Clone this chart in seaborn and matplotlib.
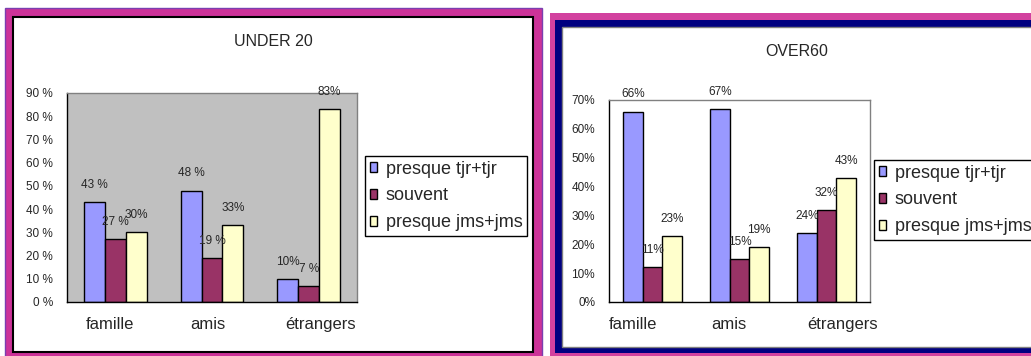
import pandas as pd
import seaborn as sns
import matplotlib.pyplot as plt
import matplotlib.transforms as mtransforms
from matplotlib.patches import Rectangle, Patch
from matplotlib.ticker import FuncFormatter

# data
categories = ['famille', 'amis', 'étrangers']
series = ['presque tjr+tjr', 'souvent', 'presque jms+jms']
colors = ['#9999FF', '#993366', '#FFFFCC']

under20_tjr = [43, 48, 10]
under20_souvent = [27, 19, 7]
under20_jms = [30, 33, 83]
under20_labels = [['43 %', '48 %', '10%'], ['27 %', '19 %', '7 %'], ['30%', '33%', '83%']]

over60_tjr = [66, 67, 24]
over60_souvent = [12, 15, 32]
over60_jms = [23, 19, 43]
over60_labels = [['66%', '67%', '24%'], ['11%', '15%', '32%'], ['23%', '19%', '43%']]

W, H = 1031, 356


def make_df(tjr, souvent, jms):
    rows = []
    for s, vals in zip(series, [tjr, souvent, jms]):
        for c, v in zip(categories, vals):
            rows.append({'categorie': c, 'serie': s, 'valeur': v})
    return pd.DataFrame(rows)


def px_axes(fig, l, t, r, b):
    return fig.add_axes([l / W, 1 - b / H, (r - l) / W, (b - t) / H])


def draw_panel(ax, df, labels, ymax, face, width, fmt, label_shift):
    sns.barplot(data=df, x='categorie', y='valeur', hue='serie', hue_order=series,
                palette=colors, width=width, gap=0, saturation=1,
                edgecolor='black', linewidth=1, legend=False, ax=ax)
    for cont, labs in zip(ax.containers, labels):
        ax.bar_label(cont, labels=labs, padding=8, fontsize=8.5)
    ax.set_facecolor(face)
    ax.set_xlim(-0.5, 2.5)
    ax.set_ylim(0, ymax)
    ax.set_yticks(range(0, ymax + 1, 10))
    ax.yaxis.set_major_formatter(FuncFormatter(fmt))
    ax.set_xticks([-0.5, 0.5, 1.5, 2.5], minor=True)
    ax.tick_params(axis='x', which='minor', length=5, direction='out', width=1)
    ax.tick_params(axis='x', which='major', length=0, pad=11, labelsize=12)
    ax.tick_params(axis='y', length=4, direction='out', width=1, pad=6, labelsize=8.5)
    ax.set_xlabel('')
    ax.set_ylabel('')
    # Excel spreads the category names a little
    for lab, dx in zip(ax.get_xticklabels(), label_shift):
        lab.set_transform(lab.get_transform() +
                          mtransforms.ScaledTranslation(dx / 100, 0, ax.figure.dpi_scale_trans))
    for side in ['left', 'bottom']:
        ax.spines[side].set_color('black')
        ax.spines[side].set_linewidth(1)
    for side in ['top', 'right']:
        ax.spines[side].set_color('#808080')
        ax.spines[side].set_linewidth(1)


def add_legend(fig, x, y):
    handles = [Patch(facecolor=c, edgecolor='black', linewidth=1) for c in colors]
    leg = fig.legend(handles, series, loc='upper left',
                     bbox_to_anchor=(x / W, 1 - y / H), bbox_transform=fig.transFigure,
                     frameon=True, fancybox=False, edgecolor='black', framealpha=1,
                     fontsize=13, handlelength=0.4, handleheight=0.5,
                     handletextpad=0.5, borderpad=0.25, labelspacing=0.55, borderaxespad=0)
    leg.get_frame().set_linewidth(1)


sns.set_style('white')
plt.rcParams['font.family'] = ['Liberation Sans', 'DejaVu Sans']

fig = plt.figure(figsize=(W / 100, H / 100), dpi=100)

# frames of the two pasted charts
bg = fig.add_axes([0, 0, 1, 1])
bg.set_xlim(0, W)
bg.set_ylim(H, 0)
bg.axis('off')
bg.add_patch(Rectangle((5, 8), 537, 360, facecolor='#CC3399', edgecolor='#7A3FB0', lw=1))
bg.add_patch(Rectangle((13, 17), 520, 335, facecolor='white', edgecolor='black', lw=1.5))
bg.add_patch(Rectangle((550, 13), 500, 360, facecolor='#D2419F', edgecolor='none'))
bg.add_patch(Rectangle((555, 20), 500, 333, facecolor='#000080', edgecolor='none'))
bg.add_patch(Rectangle((562, 27), 500, 320, facecolor='white', edgecolor='#808080', lw=1))

# UNDER 20
ax1 = px_axes(fig, 67, 93, 357, 302)
draw_panel(ax1, make_df(under20_tjr, under20_souvent, under20_jms), under20_labels,
           90, '#C0C0C0', 0.65, lambda v, p: f'{int(v)} %', [-5, -4, 12])
fig.text(273 / W, 1 - 42 / H, 'UNDER 20', ha='center', va='center', fontsize=11.5)
add_legend(fig, 365, 156)

# OVER60
ax2 = px_axes(fig, 609, 100, 870, 302)
draw_panel(ax2, make_df(over60_tjr, over60_souvent, over60_jms), over60_labels,
           70, 'white', 0.68, lambda v, p: f'{int(v)}%', [-20, -11, 16])
fig.text(797 / W, 1 - 52 / H, 'OVER60', ha='center', va='center', fontsize=11.5)
add_legend(fig, 874, 160)

fig.savefig('out.png', dpi=100)
